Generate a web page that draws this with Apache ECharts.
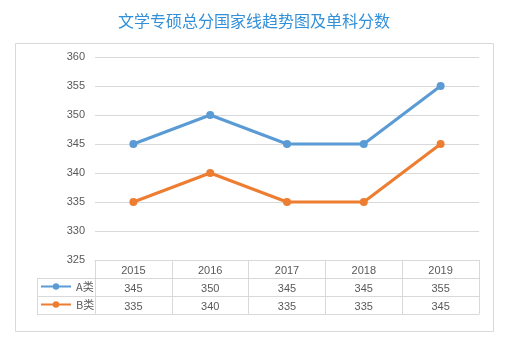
<!DOCTYPE html>
<html>
<head>
<meta charset="utf-8">
<script src="https://cdn.jsdelivr.net/npm/echarts@6/dist/echarts.min.js"></script>
<style>
  html, body { margin: 0; padding: 0; background: #fff; }
  #chart { width: 508px; height: 341px; }
</style>
</head>
<body>
<div id="chart"></div>
<script>
const categories = ['2015', '2016', '2017', '2018', '2019'];
const seriesA = [345, 350, 345, 345, 355];
const seriesB = [335, 340, 335, 335, 345];
const yTicks = { min: 325, max: 360, step: 5 };

const gridCol = '#d9d9d9';
const textCol = '#595959';
const numFont = '"Liberation Sans", "Open Sans", sans-serif';
const cjkFont = '"Noto Sans CJK SC", sans-serif';
const rowH = 18;
const gridLeft = 95, gridRight = 29, gridTop = 57, gridBottom = 81;
const tableTop = 341 - gridBottom;

// Category axes stacked under the plot act as the data table rows
function tableAxis(offset, labels, ticks) {
  return {
    type: 'category',
    position: 'bottom',
    offset: offset,
    data: categories,
    boundaryGap: true,
    axisLine: { show: true, lineStyle: { color: gridCol, width: 1 } },
    axisTick: ticks
      ? { show: true, interval: 0, length: rowH * 3, lineStyle: { color: gridCol, width: 1 } }
      : { show: false },
    axisLabel: labels
      ? { show: true, interval: 0, margin: 5, color: textCol, fontSize: 11, fontFamily: numFont,
          formatter: (v, i) => String(labels[i]) }
      : { show: false },
    splitLine: { show: false }
  };
}

const chart = echarts.init(document.getElementById('chart'), null, { renderer: 'canvas' });

// Borders of the legend column on the left of the table
const boxLeft = 37;
const legendLines = [];
for (let k = 1; k <= 3; k++) {
  legendLines.push({
    type: 'line',
    shape: { x1: boxLeft, y1: tableTop + rowH * k + 0.5, x2: gridLeft, y2: tableTop + rowH * k + 0.5 },
    style: { stroke: gridCol, lineWidth: 1 }
  });
}
legendLines.push({
  type: 'line',
  shape: { x1: boxLeft + 0.5, y1: tableTop + rowH, x2: boxLeft + 0.5, y2: tableTop + rowH * 3 },
  style: { stroke: gridCol, lineWidth: 1 }
});

function legendRow(name, row) {
  return {
    data: [name], left: 40, top: tableTop + rowH * row + 3, padding: 0,
    itemWidth: 30, itemHeight: 8, itemGap: 0,
    textStyle: { color: textCol, fontSize: 11, fontFamily: cjkFont }
  };
}

chart.setOption({
  animation: false,
  backgroundColor: '#ffffff',
  title: {
    text: '文学专硕总分国家线趋势图及单科分数',
    left: 'center',
    top: 8,
    textStyle: {
      color: '#3290d8',
      fontSize: 16,
      fontWeight: 'normal',
      fontFamily: cjkFont
    }
  },
  graphic: [
    {
      type: 'rect',
      shape: { x: 15.5, y: 43.5, width: 478, height: 288 },
      style: { fill: 'none', stroke: gridCol, lineWidth: 1 },
      z: -1
    }
  ].concat(legendLines),
  legend: [legendRow('A类', 1), legendRow('B类', 2)],
  grid: { left: gridLeft, right: gridRight, top: gridTop, bottom: gridBottom, containLabel: false },
  xAxis: [
    tableAxis(0, categories, true),
    tableAxis(rowH, seriesA, false),
    tableAxis(rowH * 2, seriesB, false),
    tableAxis(rowH * 3, null, false)
  ],
  yAxis: {
    type: 'value',
    min: yTicks.min,
    max: yTicks.max,
    interval: yTicks.step,
    axisLine: { show: false },
    axisTick: { show: false },
    axisLabel: { color: textCol, fontSize: 11, margin: 10, fontFamily: numFont },
    splitLine: { lineStyle: { color: gridCol, width: 1 } }
  },
  series: [
    {
      name: 'A类',
      type: 'line',
      xAxisIndex: 0,
      data: seriesA,
      symbol: 'circle',
      symbolSize: 8,
      color: '#5b9bd5',
      lineStyle: { width: 3, color: '#5b9bd5' },
      itemStyle: { color: '#5b9bd5' }
    },
    {
      name: 'B类',
      type: 'line',
      xAxisIndex: 0,
      data: seriesB,
      symbol: 'circle',
      symbolSize: 8,
      color: '#ed7d31',
      lineStyle: { width: 3, color: '#ed7d31' },
      itemStyle: { color: '#ed7d31' }
    }
  ]
});
</script>
</body>
</html>
